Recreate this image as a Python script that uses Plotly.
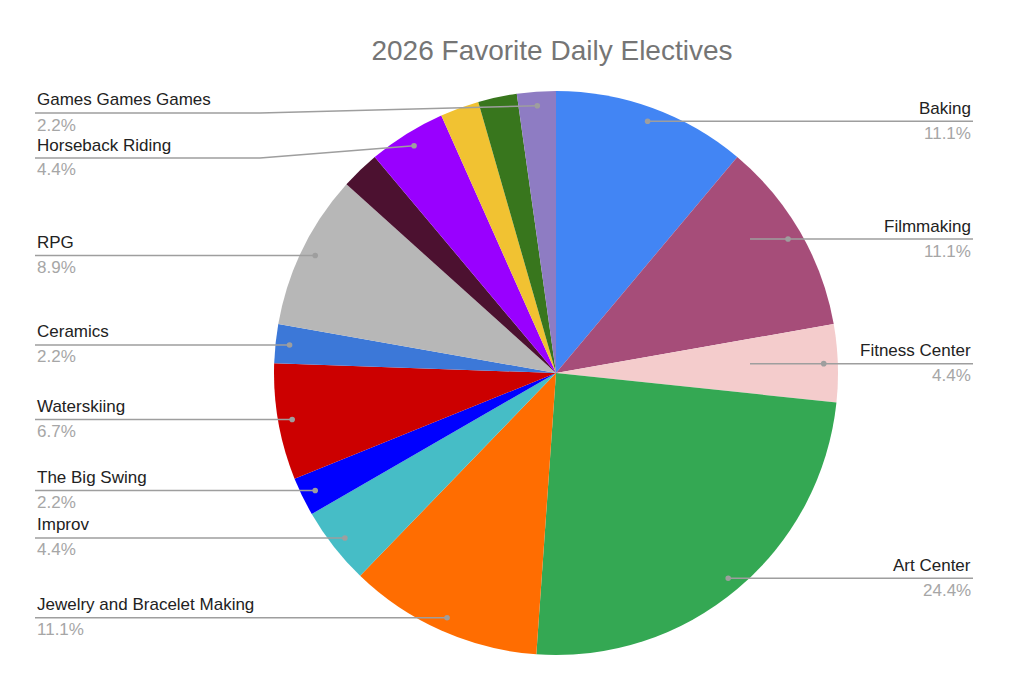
import math
import plotly.graph_objects as go

# survey results (counts), clockwise from 12 o'clock
electives = ['Baking', 'Filmmaking', 'Fitness Center', 'Art Center',
             'Jewelry and Bracelet Making', 'Improv', 'The Big Swing',
             'Waterskiing', 'Ceramics', 'RPG', 'Other A', 'Horseback Riding',
             'Other B', 'Other C', 'Games Games Games']
votes = [5, 5, 2, 11, 5, 2, 1, 3, 1, 4, 1, 2, 1, 1, 1]
colors = ['#4285F4', '#A64D79', '#F4CCCC', '#34A853', '#FF6D01', '#46BDC6',
          '#0000FF', '#CC0000', '#3C78D8', '#B7B7B7', '#4C1130', '#9900FF',
          '#F1C232', '#38761D', '#8E7CC3']
# the chart hides labels on a few thin slices
show_label = [True] * 10 + [False, True, False, False, True]

W, H = 1010, 690
OFF = 8  # page body margin pushes the plot right/down
CX, CY, R = 556, 373, 282
FONT = 'Liberation Sans, Arial, sans-serif'
LINE_COL = '#9e9e9e'


def px(x):
    return (x - OFF) / W


def py(y):
    return 1 - (y - OFF) / H


fig = go.Figure(go.Pie(
    labels=electives, values=votes, sort=False, direction='clockwise',
    marker=dict(colors=colors, line=dict(width=0)),
    textinfo='none', hoverinfo='label+percent', showlegend=False,
    domain=dict(x=[px(CX - R), px(CX + R)], y=[py(CY + R), py(CY - R)]),
))

total = sum(votes)
cum = 0
labels_left, labels_right = [], []
for name, v, show in zip(electives, votes, show_label):
    mid = (cum + v / 2) / total * 2 * math.pi
    cum += v
    if not show:
        continue
    dx = CX + 0.95 * R * math.sin(mid)
    dy = CY - 0.95 * R * math.cos(mid)
    pct = f'{v / total * 100:.1f}%'
    (labels_right if math.sin(mid) > 0 else labels_left).append([name, pct, dx, dy, dy])

# push labels apart so they don't overlap
for side in (labels_left, labels_right):
    side.sort(key=lambda t: t[3])
    prev = CY - R + 22 - 45
    for lab in side:
        lab[4] = max(lab[4], prev + 45)
        prev = lab[4]

shapes, annos = [], []
for side, edge, kink, anchor in ((labels_left, 35, 260, 'left'),
                                 (labels_right, 973, 750, 'right')):
    for name, pct, dx, dy, ly in side:
        path = f'M {px(edge)} {py(ly)} L {px(kink)} {py(ly)} L {px(dx)} {py(dy)}'
        shapes.append(dict(type='path', path=path, xref='paper', yref='paper',
                           line=dict(color=LINE_COL, width=1.5), layer='above'))
        shapes.append(dict(type='circle', xref='paper', yref='paper',
                           x0=px(dx - 2.8), x1=px(dx + 2.8), y0=py(dy + 2.8), y1=py(dy - 2.8),
                           fillcolor=LINE_COL, line=dict(width=0), layer='above'))
        annos.append(dict(text=name, x=px(edge), y=py(ly - 13), xref='paper', yref='paper',
                          xanchor=anchor, yanchor='middle', showarrow=False,
                          font=dict(family=FONT, size=17, color='#222222')))
        annos.append(dict(text=pct, x=px(edge), y=py(ly + 12), xref='paper', yref='paper',
                          xanchor=anchor, yanchor='middle', showarrow=False,
                          font=dict(family=FONT, size=17, color='#a6a6a6')))

fig.update_layout(
    width=W, height=H,
    margin=dict(l=0, r=0, t=0, b=0),
    paper_bgcolor='white', plot_bgcolor='white',
    title=dict(text='2026 Favorite Daily Electives', x=px(552), y=py(50),
               xanchor='center', yanchor='middle',
               font=dict(family=FONT, size=28, color='#757575')),
    shapes=shapes, annotations=annos,
)

fig.write_html('out.html')
